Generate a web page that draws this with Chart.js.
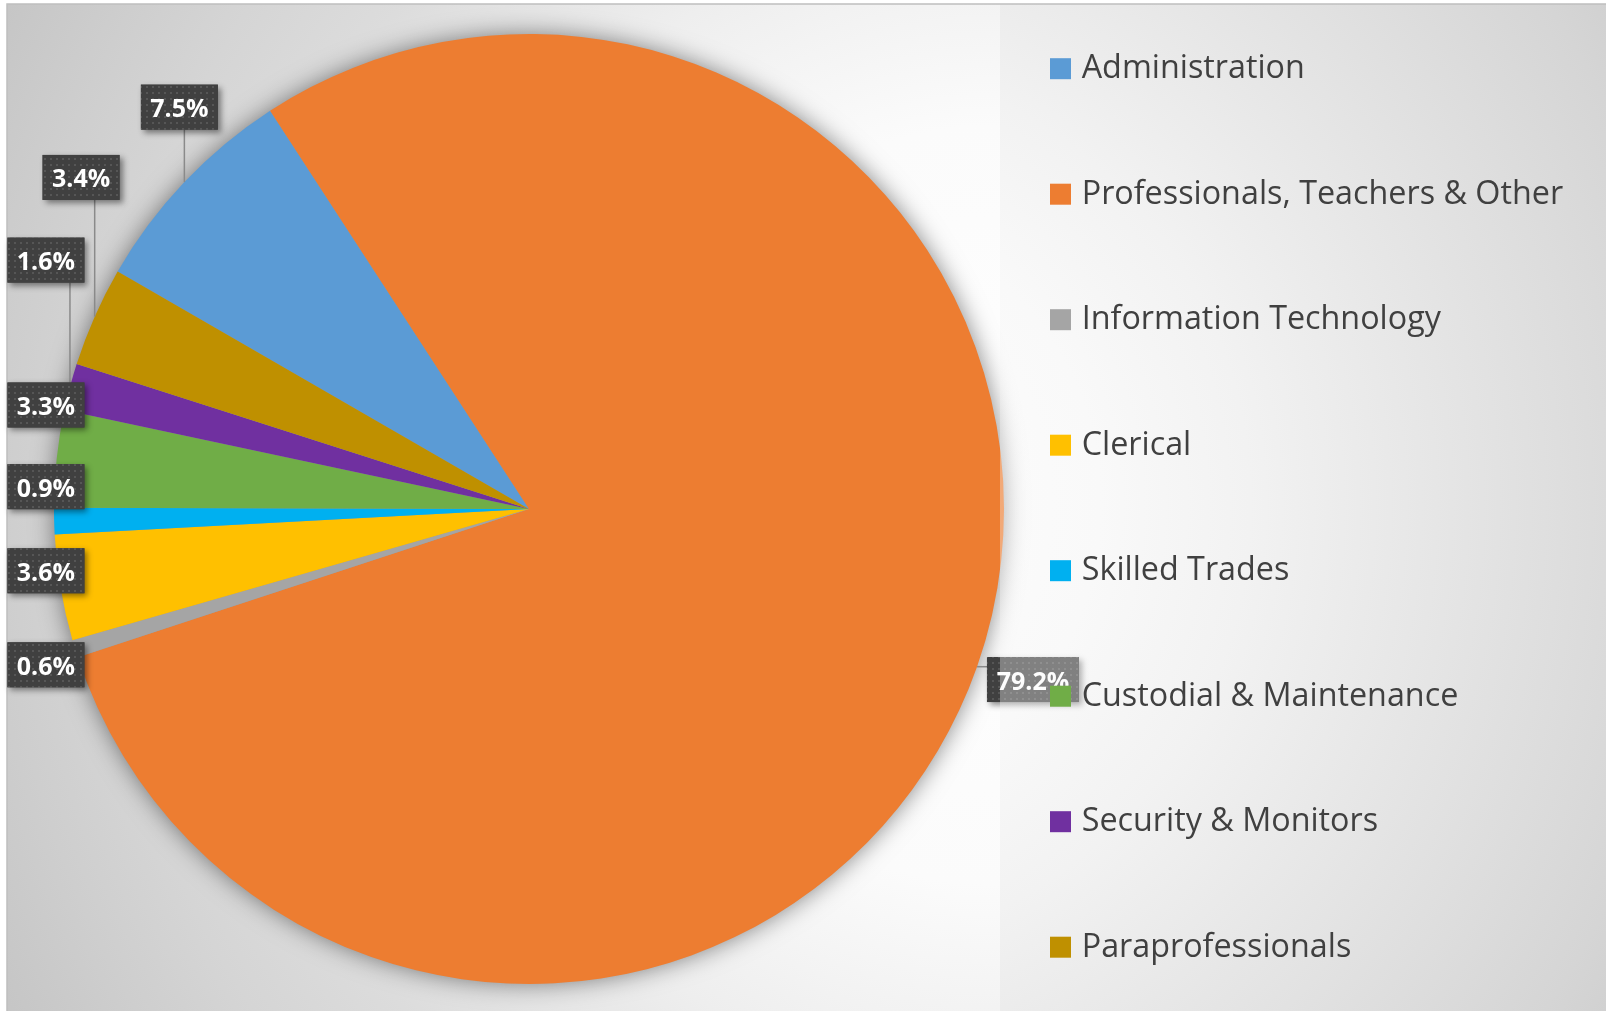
<!DOCTYPE html>
<html><head><meta charset="utf-8">
<script src="https://cdn.jsdelivr.net/npm/chart.js@4.4.1/dist/chart.umd.min.js"></script>
<style>html,body{margin:0;padding:0;background:#fff;overflow:hidden}#wrap{width:1606px;height:1011px;position:relative}canvas{display:block}</style>
</head><body><div id="wrap"><canvas id="c" width="1606" height="1011"></canvas></div>
<script>
// ---- data ----
const categories = ['Administration', 'Professionals, Teachers & Other', 'Information Technology', 'Clerical', 'Skilled Trades', 'Custodial & Maintenance', 'Security & Monitors', 'Paraprofessionals'];
const shares = [7.5, 79.2, 0.6, 3.6, 0.9, 3.3, 1.6, 3.4];
const sliceColors = ['#5B9BD5', '#ED7D31', '#A5A5A5', '#FFC000', '#00B0F0', '#70AD47', '#7030A0', '#BF9000'];

// ---- layout (label box centres relative to pie centre, in pie radii) ----
const labelDX = [-0.736, 1.061, -1.017, -1.017, -1.017, -1.017, -1.017, -0.943];
const labelDY = [-0.846, 0.359, 0.328, 0.130, -0.047, -0.219, -0.524, -0.698];

const W = 1606, H = 1011;
const FRAME = {x: 7, y: 4};
const LEGEND = {x: 1050, y0: 68.7, step: 125.5, bw: 21, bh: 21, gap: 10.7, size: 32.3, family: '"Open Sans"', color: '#404040', base: 9.4};
const LABEL_FONT = {size: 25, family: '"Open Sans"'};

function plotGradient(ctx) {
  const g = ctx.createRadialGradient(1000, 505, 0, 1000, 505, 1150);
  g.addColorStop(0, '#ffffff');
  g.addColorStop(0.33, '#fbfbfb');
  g.addColorStop(0.504, '#eeeeee');
  g.addColorStop(0.678, '#dcdcdc');
  g.addColorStop(0.783, '#d5d5d5');
  g.addColorStop(0.87, '#cecece');
  g.addColorStop(1, '#c3c3c3');
  return g;
}
function legendGradient(ctx) {
  const g = ctx.createRadialGradient(800, 505, 0, 800, 505, 1000);
  g.addColorStop(0, '#ffffff');
  g.addColorStop(0.3, '#f9f9f9');
  g.addColorStop(0.45, '#f2f2f2');
  g.addColorStop(0.9, '#d5d5d5');
  g.addColorStop(1, '#cdcdcd');
  return g;
}
function legendLeft(chart) { return chart.chartArea.right - 4; }

const bgPlugin = {
  id: 'bg',
  beforeDraw(chart) {
    const ctx = chart.ctx;
    const lx = legendLeft(chart);
    ctx.save();
    ctx.fillStyle = '#ffffff';
    ctx.fillRect(0, 0, W, H);
    ctx.fillStyle = plotGradient(ctx);
    ctx.fillRect(FRAME.x, FRAME.y, lx - FRAME.x, H);
    ctx.fillStyle = legendGradient(ctx);
    ctx.fillRect(lx, FRAME.y, W - lx, H);
    ctx.strokeStyle = '#bfbfbf';
    ctx.lineWidth = 1.5;
    ctx.strokeRect(FRAME.x, FRAME.y, W + 20, H + 20);
    ctx.restore();
  },
  beforeDatasetsDraw(chart) {
    const arc = chart.getDatasetMeta(0).data[0];
    if (!arc) return;
    const ctx = chart.ctx;
    ctx.save();
    ctx.shadowColor = 'rgba(0,0,0,0.5)';
    ctx.shadowBlur = 24;
    ctx.fillStyle = '#999999';
    ctx.beginPath();
    ctx.arc(arc.x, arc.y, arc.outerRadius - 1, 0, Math.PI * 2);
    ctx.fill();
    ctx.restore();
  }
};

let dotPattern = null;
function getPattern(ctx) {
  if (dotPattern) return dotPattern;
  const c = document.createElement('canvas');
  c.width = 6; c.height = 6;
  const p = c.getContext('2d');
  p.fillStyle = '#404040'; p.fillRect(0, 0, 6, 6);
  p.fillStyle = '#565656'; p.fillRect(2, 2, 2, 2);
  dotPattern = ctx.createPattern(c, 'repeat');
  return dotPattern;
}

function boxes(chart) {
  const ctx = chart.ctx;
  const meta = chart.getDatasetMeta(0);
  ctx.save();
  ctx.font = `bold ${LABEL_FONT.size}px ${LABEL_FONT.family}`;
  const out = meta.data.map((arc, i) => {
    const {x, y, startAngle, endAngle, outerRadius} = arc.getProps(['x', 'y', 'startAngle', 'endAngle', 'outerRadius'], true);
    const mid = (startAngle + endAngle) / 2;
    const ax = x + Math.cos(mid) * outerRadius, ay = y + Math.sin(mid) * outerRadius;
    const text = shares[i].toFixed(1) + '%';
    const w = Math.round(ctx.measureText(text).width + 19), h = 45;
    const cx = x + labelDX[i] * outerRadius, cy = y + labelDY[i] * outerRadius;
    return {x, y, r: outerRadius, ax, ay, text, bx: cx - w / 2, by: cy - h / 2, w, h, cx, cy};
  });
  ctx.restore();
  return out;
}

const labelPlugin = {
  id: 'pieLabels',
  afterDatasetsDraw(chart) {
    const ctx = chart.ctx;
    const list = boxes(chart);
    ctx.save();
    // leader lines
    ctx.strokeStyle = '#8a8a8a';
    ctx.lineWidth = 1.5;
    list.forEach(b => {
      const nx = Math.max(b.bx, Math.min(b.x, b.bx + b.w));
      const ny = Math.max(b.by, Math.min(b.y, b.by + b.h));
      const touches = Math.hypot(nx - b.x, ny - b.y) <= b.r;
      if (touches) return;
      let ex, ey;
      if (b.ax >= b.bx && b.ax <= b.bx + b.w) { ex = b.ax; ey = b.ay > b.cy ? b.by + b.h : b.by; }
      else if (b.ay >= b.by && b.ay <= b.by + b.h) { ey = b.ay; ex = b.ax > b.cx ? b.bx + b.w : b.bx; }
      else { ex = Math.max(b.bx, Math.min(b.ax, b.bx + b.w)); ey = Math.max(b.by, Math.min(b.ay, b.by + b.h)); }
      ctx.beginPath();
      ctx.moveTo(b.ax, b.ay);
      ctx.lineTo(ex, ey);
      ctx.stroke();
    });
    // boxes
    list.forEach(b => {
      ctx.save();
      ctx.shadowColor = 'rgba(0,0,0,0.45)';
      ctx.shadowBlur = 6;
      ctx.shadowOffsetX = 3;
      ctx.shadowOffsetY = 3;
      ctx.fillStyle = '#404040';
      ctx.fillRect(b.bx, b.by, b.w, b.h);
      ctx.restore();
      ctx.fillStyle = getPattern(ctx);
      ctx.fillRect(b.bx, b.by, b.w, b.h);
      ctx.fillStyle = '#ffffff';
      ctx.font = `bold ${LABEL_FONT.size}px ${LABEL_FONT.family}`;
      ctx.textAlign = 'center';
      ctx.textBaseline = 'alphabetic';
      ctx.fillText(b.text, b.cx, b.cy + LABEL_FONT.size * 0.36 + 1);
    });
    ctx.restore();
  },
  afterDraw(chart) {
    const ctx = chart.ctx;
    const lx = legendLeft(chart);
    ctx.save();
    // legend panel (semi-transparent fill sitting over the chart)
    ctx.globalAlpha = 0.35;
    ctx.fillStyle = legendGradient(ctx);
    ctx.fillRect(lx, FRAME.y + 1, W - lx, H);
    ctx.globalAlpha = 1;
    ctx.font = `${LEGEND.size}px ${LEGEND.family}`;
    ctx.textAlign = 'left';
    ctx.textBaseline = 'alphabetic';
    categories.forEach((name, i) => {
      const cy = LEGEND.y0 + i * LEGEND.step;
      ctx.fillStyle = sliceColors[i];
      ctx.fillRect(LEGEND.x, cy - LEGEND.bh / 2, LEGEND.bw, LEGEND.bh);
      ctx.fillStyle = LEGEND.color;
      ctx.fillText(name, LEGEND.x + LEGEND.bw + LEGEND.gap, cy + LEGEND.base);
    });
    ctx.restore();
  }
};

new Chart(document.getElementById('c'), {
  type: 'pie',
  data: {
    labels: categories,
    datasets: [{
      data: shares,
      backgroundColor: sliceColors,
      borderWidth: 0,
      hoverOffset: 0
    }]
  },
  options: {
    responsive: false,
    animation: false,
    events: [],
    rotation: 300,
    layout: {padding: {left: 54, top: 34, right: 602, bottom: 27}},
    plugins: {legend: {display: false}, tooltip: {enabled: false}}
  },
  plugins: [bgPlugin, labelPlugin]
});
</script>
</body></html>
